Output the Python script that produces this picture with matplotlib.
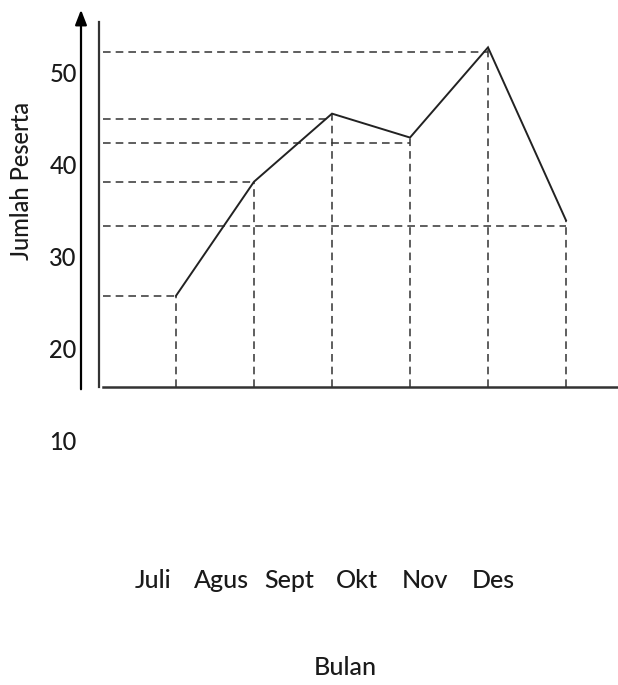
import matplotlib
matplotlib.use("Agg")
import matplotlib.pyplot as plt

# ---- data ----
months = ["Juli", "Agus", "Sept", "Okt", "Nov", "Des"]
peserta = [26.0, 38.4, 45.8, 43.2, 53.0, 34.2]
guide_levels = [26.0, 38.4, 45.2, 42.6, 52.5, 33.6]
y_ticks = [50, 40, 30, 20, 10]
y_label = "Jumlah Peserta"
x_label = "Bulan"

W, H = 618, 685
plt.rcParams['font.family'] = ['Lato', 'DejaVu Sans']
fig = plt.figure(figsize=(W / 100, H / 100), dpi=100)
ax = fig.add_axes([0, 0, 1, 1])
ax.set_axis_off()

# data coordinates: month index horizontally, value vertically
x0_px, dx_px = 176, 78        # pixel of first month, pixel per month step
y50_px, dy_px = 75, 9.2       # pixel of value 50, pixel per unit
ax.set_xlim(-x0_px / dx_px, (W - x0_px) / dx_px)
ax.set_ylim(50 - (H - y50_px) / dy_px, 50 + y50_px / dy_px)

def px_x(p):
    return (p - x0_px) / dx_px

def px_y(p):
    return 50 - (p - y50_px) / dy_px

xs = list(range(len(months)))
base = px_y(387)
left = px_x(103)

dash_kw = dict(color="#333333", lw=1.1, dashes=(5, 3.3))
for x, g in zip(xs, guide_levels):
    ax.plot([left, x], [g, g], **dash_kw)
for x, v in zip(xs, peserta):
    ax.plot([x, x], [base, v], **dash_kw)

ax.plot(xs, peserta, color="#222222", lw=1.4, solid_joinstyle="miter")

# axes lines
ax.plot([px_x(103), px_x(W)], [base, base], color="#333333", lw=1.8)
ax.plot([px_x(99), px_x(99)], [base, px_y(22)], color="#333333", lw=1.6)
ax.annotate("", xy=(px_x(81), px_y(7)), xytext=(px_x(81), px_y(392)),
            arrowprops=dict(arrowstyle="-|>,head_width=0.35,head_length=0.9",
                            color="black", lw=1.6))

txt_kw = dict(color="#1a1a1a", fontweight="medium")

# y tick labels
for t in y_ticks:
    ax.text(px_x(63), t, str(t), ha="center", va="center", fontsize=17, **txt_kw)

ax.text(px_x(22), px_y(181), y_label, rotation=90, ha="center", va="center",
        fontsize=17, **txt_kw)

# month labels
for i, m in enumerate(months):
    ax.text(px_x(153 + i * 68), px_y(580), m, ha="center", va="center",
            fontsize=18, **txt_kw)

ax.text(px_x(345), px_y(668), x_label, ha="center", va="center",
        fontsize=18, **txt_kw)

fig.savefig("out.png", dpi=100)
